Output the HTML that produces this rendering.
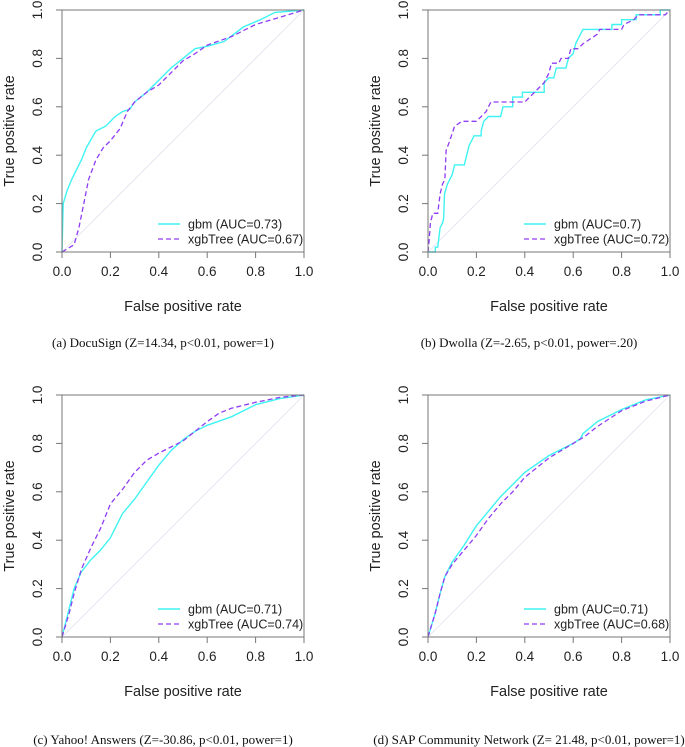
<!DOCTYPE html>
<html><head><meta charset="utf-8"><style>
html,body{margin:0;padding:0;background:#fff;}
svg{display:block;font-family:"Liberation Sans",sans-serif;}
.cap{font-family:"Liberation Serif",serif;font-size:13px;}
</style></head><body>
<svg id="fig" width="685" height="747" viewBox="0 0 685 747"></svg>
<script>
const ticks = [0, 0.2, 0.4, 0.6, 0.8, 1.0];
const tickLabels = ["0.0","0.2","0.4","0.6","0.8","1.0"];
// Panel A (DocuSign)
const aGbmX = [0,0.005,0.02,0.04,0.06,0.08,0.1,0.14,0.18,0.22,0.25,0.28,0.3,0.35,0.4,0.45,0.5,0.55,0.6,0.67,0.75,0.82,0.88,1];
const aGbmY = [0,0.2,0.25,0.3,0.34,0.38,0.43,0.5,0.52,0.56,0.58,0.59,0.62,0.66,0.71,0.76,0.8,0.84,0.85,0.87,0.93,0.96,0.99,1];
const aXgbX = [0,0.05,0.07,0.09,0.11,0.14,0.17,0.2,0.24,0.27,0.3,0.35,0.4,0.45,0.5,0.55,0.6,0.7,0.8,0.9,1];
const aXgbY = [0,0.03,0.1,0.2,0.3,0.38,0.43,0.46,0.51,0.58,0.62,0.66,0.69,0.74,0.79,0.82,0.855,0.89,0.94,0.97,1];
// Panel B (Dwolla)
const bGbmX = [0,0.03,0.03,0.04,0.045,0.05,0.06,0.065,0.068,0.08,0.09,0.1,0.11,0.15,0.16,0.17,0.18,0.19,0.22,0.22,0.23,0.25,0.3,0.31,0.35,0.35,0.39,0.39,0.48,0.48,0.5,0.52,0.53,0.57,0.58,0.6,0.61,0.62,0.63,0.64,0.76,0.76,0.8,0.8,0.86,0.86,0.96,0.96,1];
const bGbmY = [0,0,0.02,0.02,0.06,0.1,0.12,0.14,0.24,0.28,0.3,0.32,0.36,0.36,0.4,0.44,0.46,0.48,0.48,0.5,0.54,0.56,0.56,0.6,0.6,0.64,0.64,0.66,0.66,0.7,0.72,0.72,0.76,0.76,0.8,0.82,0.86,0.88,0.9,0.92,0.92,0.94,0.94,0.96,0.96,0.98,0.98,1,1];
const bXgbX = [0,0.005,0.01,0.02,0.04,0.05,0.06,0.07,0.075,0.09,0.11,0.14,0.2,0.22,0.24,0.26,0.4,0.42,0.44,0.48,0.5,0.51,0.54,0.55,0.58,0.59,0.62,0.64,0.67,0.7,0.71,0.8,0.81,0.85,0.87,0.98,1];
const bXgbY = [0,0.05,0.12,0.16,0.16,0.24,0.28,0.3,0.42,0.46,0.52,0.54,0.54,0.56,0.58,0.62,0.62,0.64,0.66,0.7,0.74,0.78,0.78,0.8,0.8,0.84,0.84,0.86,0.88,0.9,0.92,0.92,0.94,0.96,0.98,0.98,1];
// Panel C (Yahoo! Answers)
const cGbmX = [0,0.03,0.05,0.08,0.12,0.16,0.2,0.22,0.25,0.3,0.35,0.4,0.45,0.5,0.55,0.6,0.7,0.8,0.9,1];
const cGbmY = [0,0.12,0.2,0.27,0.32,0.36,0.41,0.45,0.51,0.57,0.64,0.71,0.77,0.815,0.85,0.875,0.91,0.96,0.985,1];
const cXgbX = [0,0.03,0.05,0.08,0.12,0.16,0.2,0.25,0.3,0.35,0.4,0.45,0.5,0.55,0.6,0.65,0.7,0.8,0.9,1];
const cXgbY = [0,0.1,0.18,0.28,0.37,0.45,0.55,0.61,0.68,0.73,0.76,0.785,0.81,0.85,0.89,0.925,0.945,0.97,0.99,1];
// Panel D (SAP Community Network)
const dGbmX = [0,0.03,0.05,0.07,0.1,0.15,0.2,0.25,0.3,0.35,0.4,0.5,0.6,0.63,0.64,0.7,0.8,0.9,1];
const dGbmY = [0,0.1,0.18,0.25,0.31,0.38,0.46,0.52,0.58,0.63,0.68,0.75,0.8,0.82,0.84,0.89,0.94,0.98,1];
const dXgbX = [0,0.03,0.05,0.07,0.1,0.15,0.2,0.25,0.3,0.35,0.4,0.5,0.6,0.65,0.7,0.8,0.9,1];
const dXgbY = [0,0.1,0.18,0.25,0.3,0.36,0.42,0.49,0.55,0.6,0.66,0.74,0.8,0.83,0.87,0.935,0.975,1];

const panels = [
 {id:"a", x0:62, y0:10, gx:aGbmX, gy:aGbmY, xx:aXgbX, xy:aXgbY, g:"gbm (AUC=0.73)", x:"xgbTree (AUC=0.67)", cap:"(a) DocuSign (Z=14.34, p<0.01, power=1)", capY:347},
 {id:"b", x0:428, y0:10, gx:bGbmX, gy:bGbmY, xx:bXgbX, xy:bXgbY, g:"gbm (AUC=0.7)", x:"xgbTree (AUC=0.72)", cap:"(b) Dwolla (Z=-2.65, p<0.01, power=.20)", capY:347},
 {id:"c", x0:62, y0:395, gx:cGbmX, gy:cGbmY, xx:cXgbX, xy:cXgbY, g:"gbm (AUC=0.71)", x:"xgbTree (AUC=0.74)", cap:"(c) Yahoo! Answers (Z=-30.86, p<0.01, power=1)", capY:744},
 {id:"d", x0:428, y0:395, gx:dGbmX, gy:dGbmY, xx:dXgbX, xy:dXgbY, g:"gbm (AUC=0.71)", x:"xgbTree (AUC=0.68)", cap:"(d) SAP Community Network (Z= 21.48, p<0.01, power=1)", capY:744}
];
const W = 242, H = 242;
const NS = "http://www.w3.org/2000/svg";
const svg = document.getElementById("fig");
function mk(tag, attrs, parent, text){
  const e = document.createElementNS(NS, tag);
  for (const k in attrs) e.setAttribute(k, attrs[k]);
  if (text !== undefined) e.textContent = text;
  parent.appendChild(e);
  return e;
}
panels.forEach(p => {
  const sx = v => p.x0 + v * W;
  const sy = v => p.y0 + H - v * H;
  const g = mk("g", {}, svg);
  
  
  const diag = mk("line", {x1:sx(0), y1:sy(0), x2:sx(1), y2:sy(1), stroke:"#e2e2f2", "stroke-width":0.8}, g);
  
  
  const pts = (xs, ys) => xs.map((v, i) => sx(v).toFixed(1) + "," + sy(ys[i]).toFixed(1)).join(" ");
  const gl = mk("polyline", {points:pts(p.gx, p.gy), fill:"none", stroke:"#3ff3f3", "stroke-width":1.4}, g);
  
  
  const xl = mk("polyline", {points:pts(p.xx, p.xy), fill:"none", stroke:"#8f3cf5", "stroke-width":1.3, "stroke-dasharray":"5,3"}, g);
  
  
  const box = mk("rect", {x:p.x0, y:p.y0, width:W, height:H, fill:"none", stroke:"#777", "stroke-width":1}, g);
  
  
  ticks.forEach((t, i) => {
    mk("line", {x1:sx(t), y1:p.y0+H, x2:sx(t), y2:p.y0+H+6, stroke:"#777"}, g);
    const xt = mk("text", {x:sx(t), y:p.y0+H+24, "text-anchor":"middle", "font-size":13.5, fill:"#222"}, g, tickLabels[i]);
    
    
    mk("line", {x1:p.x0, y1:sy(t), x2:p.x0-6, y2:sy(t), stroke:"#777"}, g);
    const yt = mk("text", {x:p.x0-20, y:sy(t), "text-anchor":"middle", "font-size":13.5, fill:"#222", transform:"rotate(-90 "+(p.x0-20)+" "+sy(t)+")"}, g, tickLabels[i]);
    
    
  });
  const xa = mk("text", {x:sx(0.5), y:p.y0+H+59, "text-anchor":"middle", "font-size":14.5, fill:"#222"}, g, "False positive rate");
  
  
  const yx = p.x0 - 48, yy = p.y0 + H/2;
  const ya = mk("text", {x:yx, y:yy, "text-anchor":"middle", "font-size":14.5, fill:"#222", transform:"rotate(-90 "+yx+" "+yy+")"}, g, "True positive rate");
  
  
  const lx = p.x0 + 96, ly1 = p.y0 + H - 28, ly2 = p.y0 + H - 13;
  const le1 = mk("g", {}, g);
  
  
  mk("line", {x1:lx, y1:ly1, x2:lx+22, y2:ly1, stroke:"#3ff3f3", "stroke-width":1.4}, le1);
  mk("text", {x:lx+30, y:ly1+4.5, "font-size":12.5, fill:"#222"}, le1, p.g);
  const le2 = mk("g", {}, g);
  
  
  mk("line", {x1:lx, y1:ly2, x2:lx+22, y2:ly2, stroke:"#8f3cf5", "stroke-width":1.3, "stroke-dasharray":"5,3"}, le2);
  mk("text", {x:lx+30, y:ly2+4.5, "font-size":12.5, fill:"#222"}, le2, p.x);
  const cp = mk("text", {x:p.x0 + W/2 - 20, y:p.capY, "text-anchor":"middle", class:"cap", fill:"#111"}, g, p.cap);
  
  
});
</script>
</body></html>
